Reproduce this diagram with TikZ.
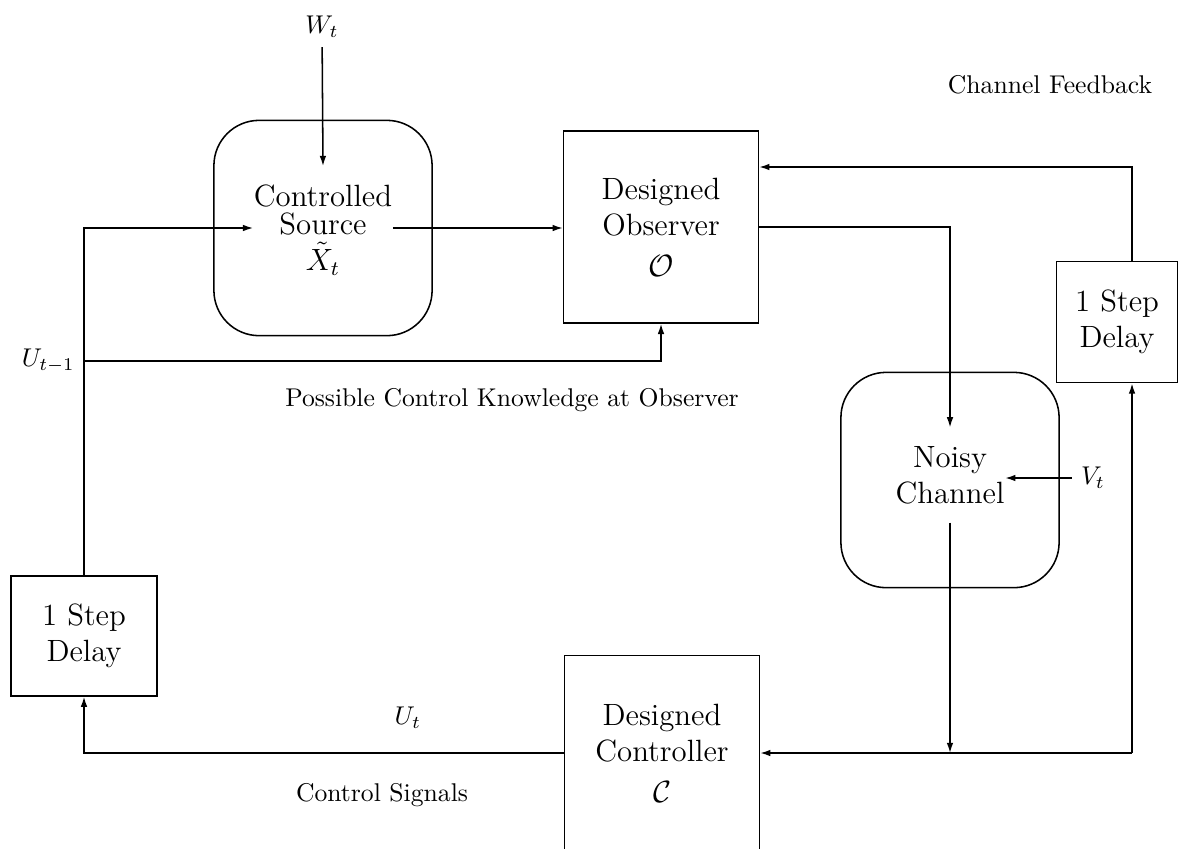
\documentclass[tikz,border=0pt]{standalone}
\usetikzlibrary{arrows.meta,positioning}
\begin{document}
\begin{tikzpicture}[x=0.0137cm,y=-0.0137cm,semithick,>={Latex[length=4pt,width=2.6pt]},
  blk/.style={draw,minimum width=2.67cm,minimum height=2.63cm,align=center,font=\large},
  rblk/.style={draw,rounded corners=0.62cm,minimum width=2.99cm,minimum height=2.95cm},
  dly/.style={draw,minimum width=1.66cm,minimum height=1.66cm,align=center,font=\large},
  txt/.style={align=center,font=\large,inner xsep=0pt,inner ysep=7pt}]
\useasboundingbox (0,0) rectangle (1195,848);
% blocks
\node[rblk] (src) at (323,228) {};
\node[txt] (srctxt) at (323,230) {Controlled\\[-3pt]Source\\$\tilde{X}_t$};
\node[blk] (obs) at (661,227) {Designed\\Observer\\[2pt]$\mathcal{O}$};
\node[rblk] (ch) at (950,480) {};
\node[txt] (chtxt) at (950,475) {Noisy\\Channel};
\node[dly] (dly2) at (1117,322) {1 Step\\Delay};
\node[dly,minimum width=2cm,minimum height=1.64cm] (dly1) at (84,636) {1 Step\\Delay};
\node[blk,minimum height=2.67cm] (ctrl) at (662,753) {Designed\\Controller\\[2pt]$\mathcal{C}$};
% labels
\node (wt) at (322,27) {$W_t$};
\node (vt) at (1093,478) {$V_t$};
\node (ut) at (408,718) {$U_t$};
\node (fbl) at (1050,85) {Channel Feedback};
\node (pck) at (512,400) {Possible Control Knowledge at Observer};
\node (csl) at (382,795) {Control Signals};
\coordinate (ub) at (84,361);
\coordinate (cj) at (950,753);
\coordinate (fb) at (1132,753);
\coordinate (ft) at (1132,167);
\node[left] (ulab) at (ub) {$U_{t-1}$};
% connectors
\draw[->] (wt) -- (srctxt.north);
\draw[->] (dly1.north) |- (srctxt.west |- src.center);
\draw[->] (srctxt.east |- src.center) -- (src.center -| obs.west);
\draw[->] (ub) -| (obs.south);
\draw[->] (obs.east) -| (chtxt.north);
\draw[->] (vt.west) -- (vt.west -| chtxt.east);
\draw[->] (chtxt.south) -- (cj);
\draw[->] (fb) -- (ctrl.east);
\draw[->] (fb) -- (fb |- dly2.south);
\draw[->] (fb |- dly2.north) -- (ft) -- (ft -| obs.east);
\draw[->] (ctrl.west) -| (dly1.south);
\end{tikzpicture}
\end{document}
